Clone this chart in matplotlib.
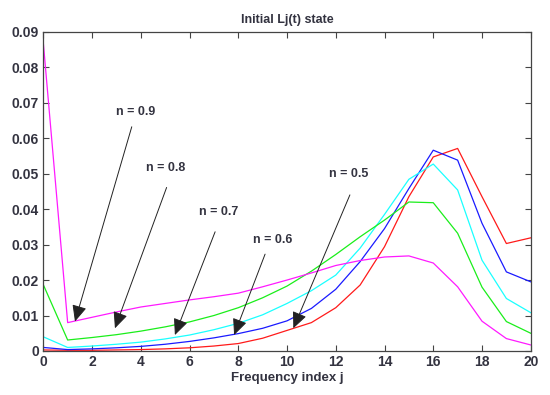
import numpy as np
import matplotlib
matplotlib.use("Agg")
import matplotlib.pyplot as plt

# frequency index
j = np.arange(0, 21)

# initial Lj(t) state for each n
L_n09 = [0.0870, 0.0080, 0.0095, 0.0110, 0.0124, 0.0134, 0.0144, 0.0153, 0.0163, 0.0181, 0.0200,
         0.0220, 0.0241, 0.0255, 0.0265, 0.0268, 0.0248, 0.0181, 0.0084, 0.0035, 0.0017]
L_n08 = [0.0187, 0.0031, 0.0038, 0.0046, 0.0056, 0.0068, 0.0082, 0.0100, 0.0122, 0.0150, 0.0183,
         0.0225, 0.0272, 0.0322, 0.0369, 0.0420, 0.0418, 0.0332, 0.0180, 0.0083, 0.0050]
L_n07 = [0.0040, 0.0010, 0.0014, 0.0019, 0.0025, 0.0034, 0.0045, 0.0060, 0.0078, 0.0102, 0.0134,
         0.0170, 0.0214, 0.0290, 0.0385, 0.0484, 0.0527, 0.0454, 0.0256, 0.0148, 0.0108]
L_n06 = [0.0010, 0.0004, 0.0006, 0.0009, 0.0013, 0.0019, 0.0027, 0.0037, 0.0049, 0.0064, 0.0085,
         0.0120, 0.0174, 0.0252, 0.0345, 0.0458, 0.0566, 0.0538, 0.0360, 0.0223, 0.0195]
L_n05 = [0.0003, 0.0002, 0.0002, 0.0003, 0.0004, 0.0006, 0.0009, 0.0014, 0.0021, 0.0036, 0.0058,
         0.0080, 0.0122, 0.0186, 0.0294, 0.0435, 0.0547, 0.0571, 0.0435, 0.0303, 0.0319]

series = [(L_n05, "#ff1a1a"), (L_n06, "#1a1aff"), (L_n07, "#1affff"),
          (L_n08, "#1aee1a"), (L_n09, "#ff1aff")]

# annotation: label, text position, arrow start, arrow tip (data coords)
labels = ["n = 0.9", "n = 0.8", "n = 0.7", "n = 0.6", "n = 0.5"]
text_xy = [(3.78, 0.0673), (5.01, 0.0515), (7.21, 0.0392), (9.40, 0.0313), (12.55, 0.0500)]
arrow_from = [(3.63, 0.0632), (5.06, 0.0461), (7.05, 0.0336), (9.10, 0.0273), (12.58, 0.0440)]
arrow_to = [(1.30, 0.0083), (2.94, 0.0064), (5.40, 0.0045), (7.83, 0.0045), (10.26, 0.0064)]

txt_color = "#333340"
plt.rcParams["font.family"] = ["Liberation Sans", "DejaVu Sans"]

fig = plt.figure(figsize=(5.5, 3.95), dpi=100)
ax = fig.add_axes([0.0787, 0.1114, 0.8863, 0.8083])

for vals, c in series:
    ax.plot(j, vals, color=c, lw=0.9)

for lab, tp, af, at in zip(labels, text_xy, arrow_from, arrow_to):
    ax.text(tp[0], tp[1], lab, ha="center", va="center", fontsize=9,
            fontweight="bold", color=txt_color)
    ax.annotate("", xy=at, xytext=af,
                arrowprops=dict(arrowstyle="-|>,head_length=1.0,head_width=0.45",
                                color="#222222", lw=0.7, shrinkA=0, shrinkB=0))

ax.set_xlim(0, 20)
ax.set_ylim(0, 0.09)
ax.set_xticks(np.arange(0, 21, 2))
ax.set_yticks(np.arange(0, 0.091, 0.01))
ax.set_yticklabels(["0"] + [f"{v:.2f}" for v in np.arange(0.01, 0.091, 0.01)])
ax.tick_params(direction="in", top=True, right=True, length=4, width=0.8,
               labelsize=10, labelcolor=txt_color, color="#444444", pad=3)
for lab in ax.get_xticklabels() + ax.get_yticklabels():
    lab.set_fontweight("bold")
for sp in ax.spines.values():
    sp.set_color("#444444")
    sp.set_linewidth(0.9)

ax.set_title("Initial Lj(t) state", fontsize=9, fontweight="bold", color=txt_color, pad=6)
ax.set_xlabel("Frequency index j", fontsize=9.5, fontweight="bold", color=txt_color, labelpad=2)

fig.savefig("out.png", dpi=100)
